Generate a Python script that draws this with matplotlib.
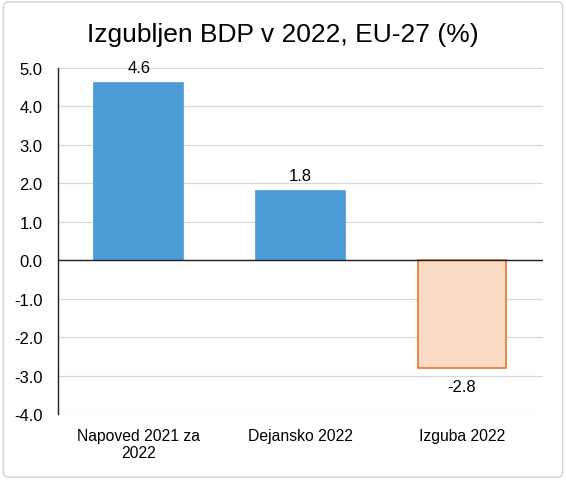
import matplotlib.pyplot as plt
from matplotlib.patches import FancyBboxPatch

plt.rcParams['font.family'] = ['Liberation Sans', 'DejaVu Sans']

categories = ['Napoved 2021 za\n2022', 'Dejansko 2022', 'Izguba 2022']
values = [4.6, 1.8, -2.8]
face_colors = ['#4a9bd6', '#4a9bd6', '#f9dac4']
edge_colors = ['#4a9bd6', '#4a9bd6', '#e2782f']
yticks = [-4.0, -3.0, -2.0, -1.0, 0.0, 1.0, 2.0, 3.0, 4.0, 5.0]

fig = plt.figure(figsize=(5.66, 4.81), dpi=100)
ax = fig.add_axes([0.1025, 0.1372, 0.8565, 0.7193])

# outer border
fig.patches.append(FancyBboxPatch((0.006, 0.006), 0.988, 0.988,
                                  boxstyle='round,pad=0,rounding_size=0.01',
                                  transform=fig.transFigure, fill=False,
                                  edgecolor='#d9d9d9', linewidth=1.2))

x = range(len(values))
bars = ax.bar(x, values, width=0.55, color=face_colors, edgecolor=edge_colors,
              linewidth=1.2, zorder=3)

for xi, v in zip(x, values):
    if v >= 0:
        ax.annotate(f'{v:.1f}', (xi, v), xytext=(0, 6), textcoords='offset points',
                    ha='center', va='bottom', fontsize=12)
    else:
        ax.annotate(f'{v:.1f}', (xi, v), xytext=(0, -8), textcoords='offset points',
                    ha='center', va='top', fontsize=12)

ax.set_ylim(-4, 5)
ax.set_xlim(-0.5, 2.5)
ax.set_yticks(yticks)
ax.set_yticklabels([f'{t:.1f}' for t in yticks], fontsize=12)
ax.set_xticks(list(x))
ax.set_xticklabels(categories, fontsize=11.3)
ax.tick_params(axis='both', length=0)
ax.tick_params(axis='y', pad=11)
ax.tick_params(axis='x', pad=10)

ax.grid(axis='y', color='#d9d9d9', linewidth=0.9, zorder=0)
ax.axhline(0, color='#222222', linewidth=1.0, zorder=4)
for s in ['top', 'right', 'bottom']:
    ax.spines[s].set_visible(False)
ax.spines['left'].set_color('#222222')
ax.spines['left'].set_linewidth(1.0)

fig.suptitle('Izgubljen BDP v 2022, EU-27 (%)', fontsize=19, y=0.953)

fig.savefig('out.png', dpi=100)
